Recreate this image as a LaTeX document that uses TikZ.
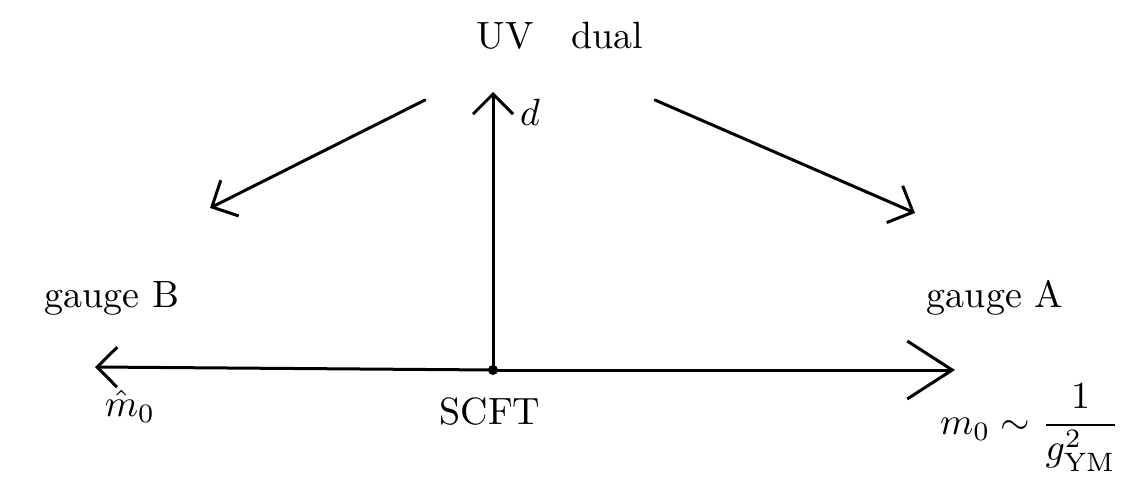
\documentclass[tikz,border=0pt]{standalone}
\usetikzlibrary{arrows.meta}
\begin{document}
\begin{tikzpicture}[x=1pt,y=-1pt,
  hand/.style={line width=3pt, line cap=round, line join=round},
  barb/.style={-{Straight Barb[length=20pt,width=40pt,line width=3pt]}},
  bigbarb/.style={-{Straight Barb[length=45pt,width=58pt,line width=3pt]}},
  lbl/.style={scale=3.8, inner sep=0pt}]
\useasboundingbox (0,0) rectangle (1133,503);
\node[lbl] (uv) at (560,36) {UV\quad dual};
\coordinate (top) at (493,92);
\coordinate (ctr) at (493,370);
\coordinate (left) at (95,367);
\coordinate (right) at (955,370);
\coordinate (ls) at (425,100);
\coordinate (le) at (210,208);
\coordinate (rs) at (655,100);
\coordinate (re) at (915,213);
\node[lbl] (d) at (530,112) {$d$};
\node[lbl] (gB) at (112,298) {gauge B};
\node[lbl] (gA) at (995,298) {gauge A};
\node[lbl] (mh) at (130,406) {$\hat m_0$};
\node[lbl] (scft) at (490,412) {SCFT};
\node[lbl] (m0) at (1030,428) {$\displaystyle m_0\sim \frac{1}{g^2_{\mathrm{YM}}}$};
\draw[hand,barb] (ctr) -- (top);
\draw[hand,barb] (ls) -- (le);
\draw[hand,barb] (rs) -- (re);
\draw[hand,barb] (ctr) -- (left);
\draw[hand,bigbarb] (ctr) -- (right);
\fill (ctr) circle (5pt);
\end{tikzpicture}
\end{document}
